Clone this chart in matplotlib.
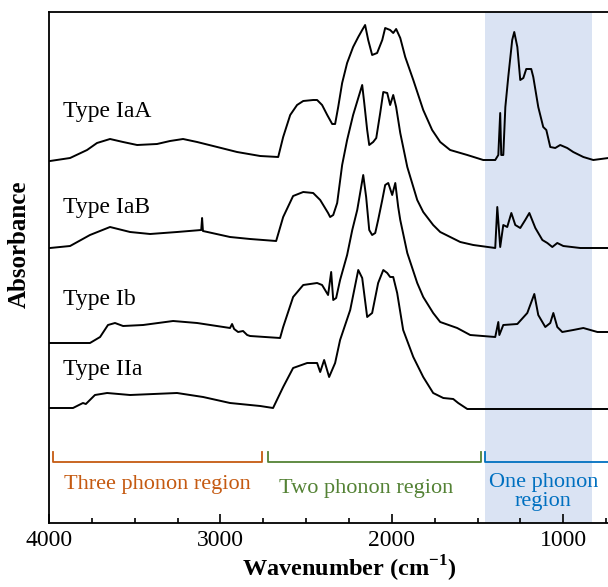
import numpy as np
import matplotlib
matplotlib.use("Agg")
import matplotlib.pyplot as plt
from matplotlib.ticker import MultipleLocator

plt.rcParams['font.family'] = ['Liberation Serif', 'DejaVu Serif']
plt.rcParams['mathtext.fontset'] = 'custom'
plt.rcParams['mathtext.rm'] = 'Liberation Serif'
plt.rcParams['mathtext.bf'] = 'Liberation Serif:bold'

# ---------------- data (wavenumber cm-1, absorbance a.u. relative to baseline) ----------------
iaa_wn = [3994, 3877, 3778, 3720, 3644, 3568, 3486, 3370, 3294, 3218, 3136, 3019, 2903, 2768, 2663,
          2634, 2593, 2553, 2517, 2459, 2436, 2407, 2377, 2348, 2331, 2313, 2290, 2261, 2226, 2196,
          2173, 2156, 2138, 2115, 2086, 2056, 2039, 2010, 1992, 1975, 1951, 1922, 1875, 1817, 1765,
          1718, 1660, 1560, 1467, 1397, 1379, 1368, 1362, 1350, 1338, 1321, 1298, 1286, 1268, 1251,
          1233, 1216, 1187, 1175, 1146, 1117, 1099, 1076, 1047, 1018, 977, 942, 883, 825, 737, 650]
iaa_ab = [0.00, 0.03, 0.11, 0.18, 0.22, 0.19, 0.16, 0.17, 0.20, 0.22, 0.19, 0.14, 0.09, 0.05, 0.04,
          0.24, 0.46, 0.56, 0.60, 0.61, 0.61, 0.56, 0.46, 0.37, 0.37, 0.54, 0.78, 0.98, 1.14, 1.24,
          1.31, 1.36, 1.21, 1.06, 1.08, 1.21, 1.33, 1.31, 1.28, 1.32, 1.23, 1.04, 0.81, 0.51, 0.31,
          0.19, 0.11, 0.06, 0.01, 0.01, 0.06, 0.48, 0.06, 0.06, 0.54, 0.84, 1.21, 1.29, 1.14, 0.81,
          0.83, 0.92, 0.92, 0.84, 0.54, 0.34, 0.31, 0.14, 0.13, 0.16, 0.13, 0.09, 0.04, 0.01, 0.03, 0.03]

iab_wn = [3994, 3877, 3761, 3644, 3527, 3410, 3253, 3112, 3107, 3102, 2944, 2827, 2675, 2634, 2576,
          2517, 2459, 2418, 2372, 2360, 2342, 2319, 2290, 2261, 2226, 2196, 2173, 2161, 2144, 2132,
          2109, 2091, 2068, 2050, 2027, 2010, 1992, 1975, 1951, 1910, 1852, 1817, 1759, 1718, 1601,
          1525, 1397, 1385, 1368, 1350, 1327, 1303, 1280, 1251, 1222, 1198, 1163, 1122, 1093, 1064,
          1035, 1000, 901, 737, 650]
iab_ab = [0.00, 0.02, 0.13, 0.21, 0.16, 0.14, 0.16, 0.18, 0.30, 0.17, 0.11, 0.09, 0.07, 0.31, 0.52,
          0.56, 0.55, 0.48, 0.35, 0.31, 0.33, 0.45, 0.83, 1.08, 1.33, 1.50, 1.63, 1.45, 1.18, 1.03,
          1.06, 1.10, 1.35, 1.56, 1.55, 1.43, 1.53, 1.41, 1.15, 0.81, 0.48, 0.36, 0.23, 0.16, 0.06,
          0.03, 0.00, 0.41, 0.01, 0.23, 0.21, 0.35, 0.23, 0.20, 0.28, 0.35, 0.20, 0.08, 0.05, 0.01,
          0.05, 0.02, 0.00, 0.00, 0.00]

ib_wn = [3994, 3761, 3702, 3656, 3615, 3568, 3451, 3276, 3136, 2944, 2932, 2920, 2897, 2868, 2844,
         2827, 2652, 2634, 2576, 2517, 2436, 2407, 2372, 2354, 2342, 2325, 2302, 2261, 2231, 2202,
         2185, 2167, 2150, 2132, 2115, 2097, 2080, 2056, 2039, 2021, 1998, 1980, 1963, 1951, 1910,
         1852, 1817, 1759, 1718, 1619, 1543, 1397, 1379, 1373, 1350, 1268, 1210, 1169, 1146, 1105,
         1076, 1058, 1035, 1006, 942, 883, 801, 737, 650]
ib_ab = [0.00, 0.00, 0.06, 0.18, 0.20, 0.17, 0.18, 0.22, 0.20, 0.15, 0.19, 0.14, 0.11, 0.12, 0.08,
         0.07, 0.05, 0.16, 0.46, 0.58, 0.60, 0.58, 0.48, 0.71, 0.43, 0.45, 0.63, 0.88, 1.13, 1.33,
         1.50, 1.68, 1.46, 1.13, 1.08, 1.10, 1.23, 1.43, 1.58, 1.60, 1.48, 1.60, 1.36, 1.23, 0.90,
         0.60, 0.46, 0.30, 0.21, 0.15, 0.08, 0.06, 0.21, 0.08, 0.18, 0.19, 0.30, 0.49, 0.28, 0.16,
         0.20, 0.30, 0.16, 0.11, 0.13, 0.15, 0.11, 0.11, 0.11]

iia_wn = [3994, 3860, 3802, 3785, 3732, 3661, 3527, 3253, 3101, 2944, 2768, 2693, 2634, 2576, 2494,
          2436, 2418, 2395, 2366, 2331, 2302, 2243, 2196, 2173, 2144, 2115, 2080, 2050, 2027, 2010,
          1992, 1969, 1934, 1875, 1817, 1759, 1700, 1642, 1613, 1560, 1300, 1000, 737, 650]
iia_ab = [0.00, 0.00, 0.05, 0.04, 0.13, 0.15, 0.13, 0.15, 0.11, 0.05, 0.02, 0.00, 0.21, 0.40, 0.45,
          0.45, 0.36, 0.48, 0.31, 0.45, 0.68, 0.98, 1.38, 1.30, 0.91, 0.95, 1.25, 1.38, 1.35, 1.31,
          1.31, 1.15, 0.78, 0.51, 0.31, 0.15, 0.10, 0.09, 0.05, -0.01, -0.01, -0.01, -0.01, -0.01]

names = ["Type IaA", "Type IaB", "Type Ib", "Type IIa"]
offsets = [3.62, 2.75, 1.80, 1.15]
label_y = [4.11, 3.15, 2.23, 1.53]

region_names = ["Three phonon region", "Two phonon region", "One phonon\nregion"]
region_spans = [(3975, 2755), (2725, 1480), (1456, 650)]
region_label_pos = [(3370, 0.38), (2150, 0.35), (1117, 0.31)]
region_colors = ["#C55A11", "#548235", "#0070C0"]
shade_span = (1456, 830)

# ---------------- figure ----------------
fig = plt.figure(figsize=(6.08, 5.87), dpi=100)
ax = fig.add_axes([49 / 608, 64 / 587, 600 / 608, 511 / 587])
ax.set_xlim(4000, 500)
ax.set_ylim(0, 5.11)

ax.axvspan(shade_span[0], shade_span[1], color="#DAE3F3", zorder=0, lw=0)

series = [(iaa_wn, iaa_ab), (iab_wn, iab_ab), (ib_wn, ib_ab), (iia_wn, iia_ab)]
for (wn, ab), off, name, ly in zip(series, offsets, names, label_y):
    ax.plot(wn, np.array(ab) + off, color="black", lw=1.4, zorder=3)
    ax.text(3918, ly, name, fontsize=17, va="center", ha="left")

# region brackets
for (x0, x1), col, nm, (tx, ty) in zip(region_spans, region_colors, region_names, region_label_pos):
    ax.plot([x0, x0, x1, x1], [0.71, 0.61, 0.61, 0.71], color=col, lw=1.3, clip_on=False)
    ax.text(tx, ty, nm, color=col, fontsize=16, ha="center", va="center", linespacing=1.05)

ax.xaxis.set_major_locator(MultipleLocator(1000))
ax.xaxis.set_minor_locator(MultipleLocator(250))
ax.tick_params(axis="x", which="major", direction="in", length=6.5, width=1.2, labelsize=17, pad=5)
ax.tick_params(axis="x", which="minor", direction="in", length=3.5, width=1.2)
ax.set_yticks([])
for s in ax.spines.values():
    s.set_linewidth(1.3)

ax.set_xlabel("Wavenumber (cm$^{\\mathbf{-1}}$)", fontsize=17.5, fontweight="bold", labelpad=2)
ax.set_ylabel("Absorbance", fontsize=18, fontweight="bold", labelpad=13)
ax.yaxis.label.set_y(0.545)

fig.savefig("out.png", dpi=100)
